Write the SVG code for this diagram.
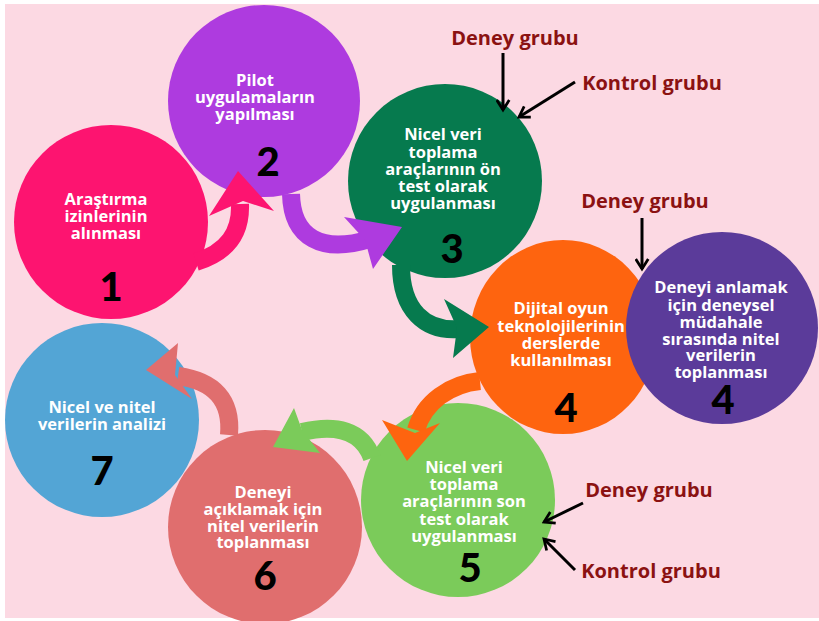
<svg xmlns="http://www.w3.org/2000/svg" width="819" height="621" viewBox="0 0 819 621">
<defs>
<marker id="ah" viewBox="0 0 12 12" refX="10" refY="6" markerWidth="5" markerHeight="5" orient="auto" markerUnits="strokeWidth">
<polyline points="2,1 10,6 2,11" fill="none" stroke="#000" stroke-width="2.2"/>
</marker>
</defs>
<style>
.t{font-family:"Open Sans","Liberation Sans",sans-serif;font-weight:700;font-size:16.5px;fill:#fff;text-anchor:middle}
.n{font-family:"Lato","Open Sans",sans-serif;font-weight:900;font-size:40px;fill:#000;text-anchor:middle}
.lb{font-family:"Open Sans","Liberation Sans",sans-serif;font-weight:700;font-size:20px;fill:#8B1212;text-anchor:middle}
.ba{fill:none;stroke:#000;stroke-width:3;marker-end:url(#ah)}
.sh{fill:none;stroke-width:18}
</style>
<rect x="0" y="0" width="819" height="621" fill="#fff"/>
<rect x="5" y="4" width="814" height="614" fill="#FCD9E3"/>

<g id="node1">
<circle cx="111" cy="222" r="97" fill="#FD1470"/>
<text class="t"><tspan x="106" y="205">Araştırma</tspan><tspan x="106" y="222">izinlerinin</tspan><tspan x="106" y="239">alınması</tspan></text>
<text class="n" x="111" y="301">1</text>
</g>
<g id="node2">
<circle cx="264" cy="101" r="96" fill="#AE3BDF"/>
<text class="t"><tspan x="255" y="86">Pilot</tspan><tspan x="255" y="103">uygulamaların</tspan><tspan x="255" y="120">yapılması</tspan></text>
<text class="n" x="268" y="176">2</text>
</g>
<g id="node3">
<circle cx="445" cy="181" r="97" fill="#067A4E"/>
<text class="t"><tspan x="443" y="140">Nicel veri</tspan><tspan x="443" y="158">toplama</tspan><tspan x="443" y="175">araçlarının ön</tspan><tspan x="443" y="192">test olarak</tspan><tspan x="443" y="209">uygulanması</tspan></text>
<text class="n" x="452" y="263">3</text>
</g>
<g id="node4">
<ellipse cx="563" cy="337" rx="93" ry="97" fill="#FE640F"/>
<text class="t"><tspan x="561" y="314">Dijital oyun</tspan><tspan x="561" y="332">teknolojilerinin</tspan><tspan x="561" y="349">derslerde</tspan><tspan x="561" y="366">kullanılması</tspan></text>
<text class="n" x="566" y="422">4</text>
</g>
<g id="node4b">
<circle cx="722" cy="328" r="96" fill="#5B3B9A"/>
<text class="t"><tspan x="721" y="293">Deneyi anlamak</tspan><tspan x="721" y="311">için deneysel</tspan><tspan x="721" y="328">müdahale</tspan><tspan x="721" y="345">sırasında nitel</tspan><tspan x="721" y="361">verilerin</tspan><tspan x="721" y="378">toplanması</tspan></text>
<text class="n" x="723" y="414">4</text>
</g>
<g id="node5">
<circle cx="458" cy="500" r="97" fill="#7BCB5A"/>
<text class="t"><tspan x="464" y="473">Nicel veri</tspan><tspan x="464" y="490">toplama</tspan><tspan x="464" y="507">araçlarının son</tspan><tspan x="464" y="525">test olarak</tspan><tspan x="464" y="542">uygulanması</tspan></text>
<text class="n" x="470" y="582">5</text>
</g>
<g id="node6">
<circle cx="265" cy="527" r="97" fill="#E06E6E"/>
<text class="t"><tspan x="263" y="498">Deneyi</tspan><tspan x="263" y="515">açıklamak için</tspan><tspan x="263" y="532">nitel verilerin</tspan><tspan x="263" y="548">toplanması</tspan></text>
<text class="n" x="265" y="590">6</text>
</g>
<g id="node7">
<circle cx="102" cy="420" r="97" fill="#53A5D5"/>
<text class="t"><tspan x="102" y="413">Nicel ve nitel</tspan><tspan x="102" y="430">verilerin analizi</tspan></text>
<text class="n" x="102" y="485">7</text>
</g>

<g id="connectors">
<path class="sh" stroke="#FD1470" d="M 196 262 C 228 252 241 232 240 204"/>
<polygon fill="#FD1470" points="238,171 274,211 243,201 209,216"/>
<path class="sh" stroke="#AE3BDF" d="M 291 194 C 292 238 322 254 370 239"/>
<polygon fill="#AE3BDF" points="402,227 373,269 365,240 344,217"/>
<path class="sh" stroke="#067A4E" d="M 401 265 C 401 310 425 332 460 329"/>
<polygon fill="#067A4E" points="489,327 453,358 457,328 444,299"/>
<path class="sh" stroke="#FE640F" d="M 480 381 C 450 384 424 402 416 430"/>
<polygon fill="#FE640F" points="407,461 382,420 415,433 440,423"/>
<path class="sh" stroke="#7BCB5A" d="M 372 458 C 362 430 336 424 302 432"/>
<polygon fill="#7BCB5A" points="273,447 294,408 302,430 320,453"/>
<path class="sh" stroke="#E06E6E" d="M 229 435 C 232 400 214 381 178 376"/>
<polygon fill="#E06E6E" points="146,370 178,343 175,375 192,399"/>

<path class="ba" d="M 503 53 L 503 110"/>
<path class="ba" d="M 575 82 L 519 117"/>
<path class="ba" d="M 642 218 L 642 269"/>
<path class="ba" d="M 583 503 L 544 522"/>
<path class="ba" d="M 575 570 L 544 539"/>
</g>

<g id="labels">
<text class="lb" x="515" y="45">Deney grubu</text>
<text class="lb" x="652" y="90">Kontrol grubu</text>
<text class="lb" x="645" y="208">Deney grubu</text>
<text class="lb" x="649" y="497">Deney grubu</text>
<text class="lb" x="651" y="578">Kontrol grubu</text>
</g>
</svg>
